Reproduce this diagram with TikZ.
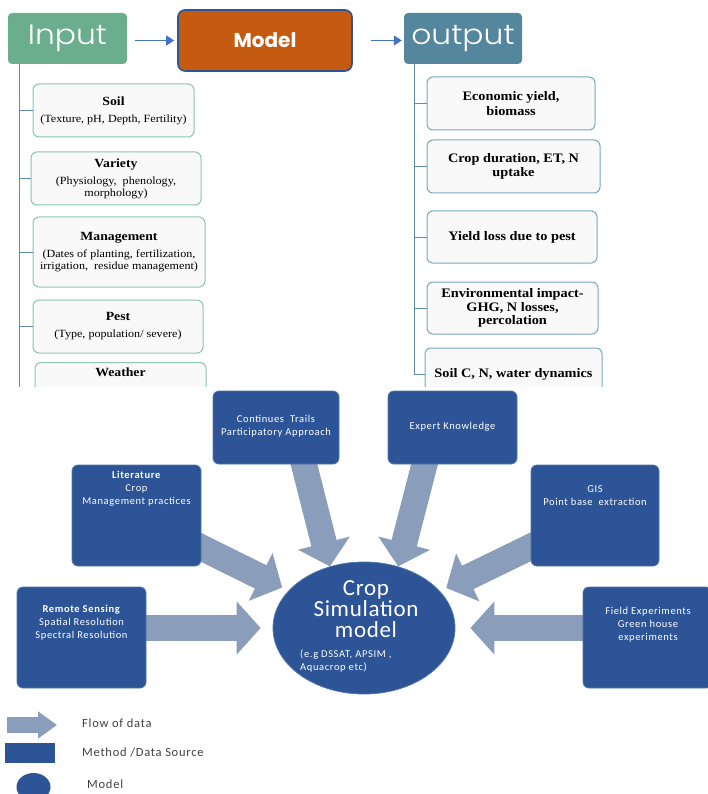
\documentclass[tikz,border=0pt]{standalone}
\usepackage{fontspec}
\setmainfont{Liberation Serif}
\newfontfamily\boxserif[FakeStretch=1.1]{Liberation Serif}
\newfontfamily\headlight[FakeStretch=1.12]{Poppins Light}
\newfontfamily\headbold{Poppins}
\newfontfamily\srcfont[LetterSpace=6]{Carlito}
\newfontfamily\modelfont[LetterSpace=3]{Carlito}
\usetikzlibrary{arrows.meta,positioning,shapes.geometric,backgrounds}

\definecolor{inputgreen}{RGB}{106,174,142}
\definecolor{modelorange}{RGB}{197,90,17}
\definecolor{modeledge}{RGB}{47,84,150}
\definecolor{outputteal}{RGB}{84,135,158}
\definecolor{linkblue}{RGB}{68,114,196}
\definecolor{treeline}{RGB}{95,143,168}
\definecolor{inedge}{RGB}{140,196,180}
\definecolor{outedge}{RGB}{120,168,190}
\definecolor{boxfill}{RGB}{249,249,249}
\definecolor{srcblue}{RGB}{44,84,150}
\definecolor{srcedge}{RGB}{82,118,172}
\definecolor{flowgray}{RGB}{138,157,187}
\definecolor{keygray}{RGB}{64,64,64}

\newcommand{\boxtitle}[1]{{\bfseries\fontsize{12.5}{12}\selectfont #1}}

\begin{document}
\begin{tikzpicture}[x=1pt,y=-1pt,>=Latex,
  hdr/.style={text=white,inner sep=0pt,rounded corners=4pt},
  inbox/.style={draw=inedge,fill=boxfill,line width=1pt,rounded corners=6pt,inner sep=0pt,
    align=center,font=\boxserif\fontsize{11}{12}\selectfont},
  outbox/.style={draw=outedge,fill=boxfill,line width=1pt,rounded corners=6pt,inner sep=0pt,
    align=center,font=\boxserif\bfseries\fontsize{13}{13.5}\selectfont},
  tree/.style={treeline,line width=1pt},
  link/.style={linkblue,line width=1.3pt,-{Triangle[length=8pt,width=10pt]}},
  srcbox/.style={fill=srcblue,draw=srcedge,line width=0.8pt,rounded corners=6pt,inner sep=0pt},
  srctext/.style={text=white,inner sep=0pt,align=center,font=\srcfont\fontsize{10.5}{13}\selectfont},
  flow/.style={flowgray,line width=26pt,-{Triangle[length=24pt,width=52pt]}},
  keytext/.style={anchor=west,inner sep=0pt,text=keygray,font=\srcfont\fontsize{12.5}{13}\selectfont}]
\useasboundingbox (0,0) rectangle (708,794);

% upper chart: input, model, output
\node[hdr,fill=inputgreen,minimum width=119pt,minimum height=51pt,
  font=\headlight\fontsize{28}{28}\selectfont] (input) at (67.5,38.5) {Input};
\node[hdr,fill=modelorange,draw=modeledge,line width=1.6pt,rounded corners=7pt,
  minimum width=174pt,minimum height=61pt,font=\headbold\bfseries\fontsize{20}{20}\selectfont] (model) at (265,40.5) {Model};
\node[hdr,fill=outputteal,minimum width=118pt,minimum height=51pt,
  font=\headlight\fontsize{28}{28}\selectfont] (output) at (463,38.5) {output};
\draw[link,shorten <=8pt,shorten >=3pt] (input.east |- model) -- (model.west);
\draw[link,shorten <=18pt,shorten >=2pt] (model.east) -- (model.east -| output.west);

\coordinate (intrunk) at (19,64);
\coordinate (outtrunk) at (414,64);

\begin{scope}
\clip (0,0) rectangle (708,386);
% inputs
\node[inbox,minimum width=161pt,minimum height=53pt] (soil) at (113.5,110.5)
  {\boxtitle{Soil}\\[5pt](Texture, pH, Depth, Fertility)};
\node[inbox,minimum width=170pt,minimum height=53pt] (variety) at (116,178.5)
  {\boxtitle{Variety}\\[5pt](Physiology,\ \ phenology,\\morphology)};
\node[inbox,minimum width=172pt,minimum height=70pt] (management) at (119,252)
  {\boxtitle{Management}\\[5pt](Dates of planting, fertilization,\\irrigation,\ \ residue management)};
\node[inbox,minimum width=170pt,minimum height=53pt] (pest) at (118,326.5)
  {\boxtitle{Pest}\\[5pt](Type, population/ severe)};
\node[inbox,minimum width=171pt,minimum height=53pt,anchor=north] (weather) at (120.5,362) {};
\node[inner sep=0pt,below=6pt of weather.north,font=\boxserif\fontsize{11}{12}\selectfont] (weathertitle)
  {\boxtitle{Weather}};
\draw[tree] (intrunk) -- (19,400);
\foreach \n in {soil,variety,management,pest}
  \draw[tree] (\n.west -| intrunk) -- (\n.west);

% outputs
\node[outbox,minimum width=168pt,minimum height=53pt] (econ) at (511,103.5) {Economic yield,\\[1.5pt]biomass};
\node[outbox,minimum width=173pt,minimum height=53pt] (duration) at (513.5,166.5) {Crop duration, ET, N\\uptake};
\node[outbox,minimum width=170pt,minimum height=52pt] (yieldloss) at (512,237) {Yield loss due to pest};
\node[outbox,minimum width=171pt,minimum height=52pt] (envimpact) at (512.5,308)
  {Environmental impact-\\GHG, N losses,\\percolation};
\node[outbox,minimum width=177pt,minimum height=52pt] (soilc) at (513.5,374) {Soil C, N, water dynamics};
\draw[tree] (outtrunk) |- (soilc.west);
\foreach \n in {econ,duration,yieldloss,envimpact}
  \draw[tree] (\n.west -| outtrunk) -- (\n.west);
\end{scope}

% lower chart: data sources around the crop model
\node[srcbox,minimum width=126pt,minimum height=73pt] (trails) at (276,427.5) {};
\node[srctext] (trailstext) at (276,426.5) {Continues\ \ Trails\\Participatory Approach};
\node[srcbox,minimum width=129pt,minimum height=73pt] (expert) at (452.5,427.5) {};
\node[srctext] (experttext) at (452.5,427) {Expert Knowledge};
\node[srcbox,minimum width=129pt,minimum height=101pt] (lit) at (136.5,515.5) {};
\node[srctext] (littext) at (136.5,489) {\textbf{Literature}\\Crop\\Management practices};
\node[srcbox,minimum width=128pt,minimum height=101pt] (gis) at (595,515.5) {};
\node[srctext] (gistext) at (595,495.5) {GIS\\Point base\ \ extraction};
\node[srcbox,minimum width=129pt,minimum height=101pt] (rs) at (81.5,637.5) {};
\node[srctext] (rstext) at (81.5,623) {\textbf{Remote Sensing}\\Spatial Resolution\\Spectral Resolution};
\node[srcbox,minimum width=129pt,minimum height=101pt] (fe) at (647.5,637.5) {};
\node[srctext] (fetext) at (648,624.5) {Field Experiments\\Green house\\experiments};

\node[ellipse,fill=srcblue,draw=srcedge,line width=0.8pt,minimum width=182pt,minimum height=132pt,
  inner sep=0pt] (csm) at (364,628) {};
\node[text=white,inner sep=0pt,align=center,font=\modelfont\fontsize{23}{21}\selectfont] (csmtitle)
  at (366,609) {Crop\\Simulation\\model};
\node[text=white,inner sep=0pt,anchor=west,align=left,font=\srcfont\fontsize{10.5}{13}\selectfont] (csmnote)
  at (300,661.5) {(e.g DSSAT, APSIM ,\\Aquacrop etc)};

\begin{scope}[on background layer]
\draw[flow,shorten <=-6pt] ([xshift=28pt]trails.south) -- (csm.119);
\draw[flow,shorten <=-6pt] ([xshift=-28pt]expert.south) -- (csm.61);
\draw[flow,shorten <=-8pt,shorten >=7pt] (lit) -- (csm);
\draw[flow,shorten <=-8pt,shorten >=7pt] (gis) -- (csm);
\draw[flow,shorten >=12pt] (rs.east |- csm) -- (csm.west);
\draw[flow,shorten >=15pt] (fe.west |- csm) -- (csm.east);
\end{scope}

% legend
\coordinate (flowkey) at (7,725);
\draw[flow,line width=16pt,-{Triangle[length=19pt,width=26pt]}] (flowkey) -- ++(50,0);
\node[fill=srcblue,minimum width=50pt,minimum height=20pt,inner sep=0pt] (sourcekey) at (30,753) {};
\node[ellipse,fill=srcblue,minimum width=34pt,minimum height=28pt,inner sep=0pt] (modelkey) at (33.5,787) {};
\node[keytext] (flowlabel) at (82,723) {Flow of data};
\node[keytext] (sourcelabel) at (82,752) {Method /Data Source};
\node[keytext] (modellabel) at (87,784) {Model};
\end{tikzpicture}
\end{document}
